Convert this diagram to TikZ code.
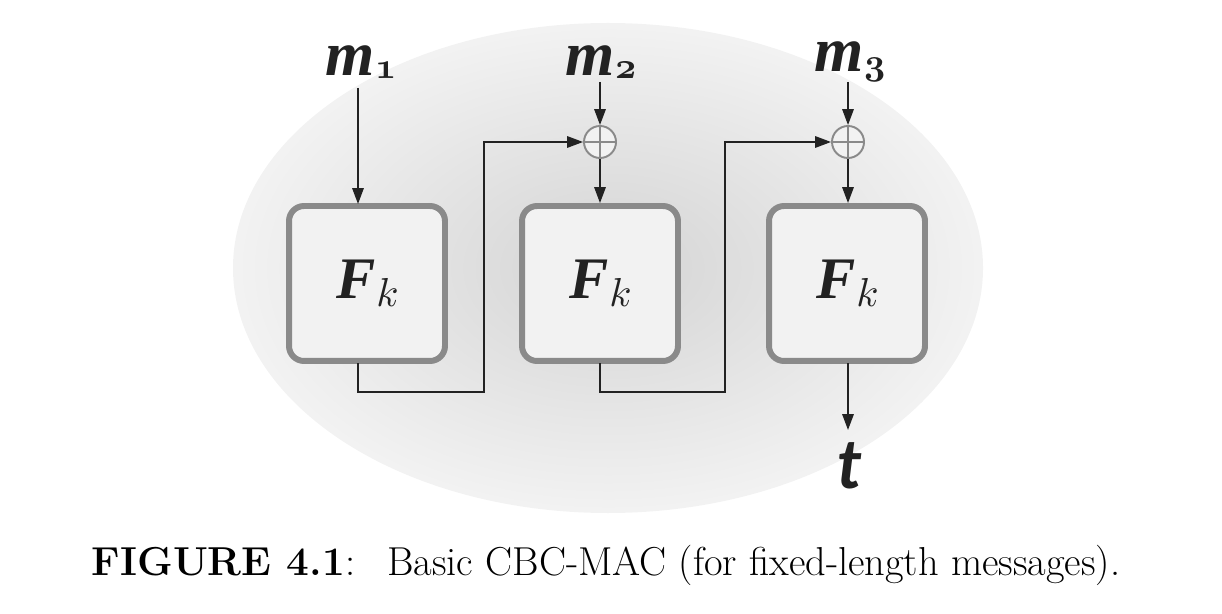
\documentclass[tikz,border=0pt]{standalone}
\usepackage{fontspec}
\newfontfamily\tfont{Lato}
\newfontfamily\lbfont{Liberation Serif}
\usetikzlibrary{arrows.meta}
\DeclareFontFamily{OML}{cmx}{\skewchar\font=127}
\DeclareFontShape{OML}{cmx}{m}{it}{<->cmmi10}{}
\DeclareFontShape{OML}{cmx}{b}{it}{<->cmmib10}{}
\definecolor{boxborder}{HTML}{8A8A8A}
\definecolor{boxfill}{HTML}{F2F2F2}
\definecolor{linecol}{HTML}{222222}
\newcommand{\osub}[1]{\mbox{\fontsize{21}{21}\usefont{OML}{cmx}{b}{it}#1}}
\newcommand{\fk}{{\fontsize{33.5}{33.5}\lbfont\bfseries\itshape F}\kern0.02em\raisebox{-4.5pt}{\fontsize{23}{23}\usefont{OML}{cmx}{m}{it}k}}
\newcommand{\mlab}[1]{{\fontsize{36}{36}\lbfont\bfseries\itshape m}\kern0.01em\raisebox{-1.5pt}{\osub{#1}}}
\tikzset{
  fbox/.style={draw=boxborder, line width=3.4pt, fill=boxfill, rounded corners=0.3cm,
    minimum width=3.12cm, minimum height=3.1cm, inner sep=0pt, text=linecol},
  xorop/.style={circle, draw=boxborder, line width=1.1pt, fill=boxfill, minimum size=0.64cm, inner sep=0pt},
  conn/.style={draw=linecol, line width=0.85pt},
  arr/.style={conn, -{Triangle[length=9pt,width=6.5pt]}},
  lbl/.style={inner sep=0pt, text=linecol},
}
\begin{document}
\begin{tikzpicture}[x=0.02cm,y=-0.02cm]
\useasboundingbox (0,0) rectangle (1222,614);
% background ellipse
\shade[inner color=black!17, outer color=black!5] (608,268) ellipse [x radius=375, y radius=245];
% boxes
\node[fbox] (f1) at (367,283.5) {\fk};
\node[fbox] (f2) at (600,283.5) {\fk};
\node[fbox] (f3) at (847,283.5) {\fk};
% xor
\node[xorop] (x2) at (600,142) {};
\node[xorop] (x3) at (848,142) {};
\draw[boxborder, line width=1.1pt] (x2.north) -- (x2.south) (x2.west) -- (x2.east);
\draw[boxborder, line width=1.1pt] (x3.north) -- (x3.south) (x3.west) -- (x3.east);
% labels
\node[lbl] (m1) at (361,62) {\mlab{1}};
\node[lbl] (m2) at (601,62) {\mlab{2}};
\node[lbl] (m3) at (850,62) {\mlab{3}};
\node[lbl, font=\fontsize{39}{39}\tfont\bfseries\itshape] (t) at (850,466) {t};
% coordinates
\coordinate (f1b) at (358,363);
\coordinate (f1t) at (358,204);
\coordinate (f2b) at (600,363);
\coordinate (f3b) at (848,363);
\coordinate (tend) at (848,430);
% connectors
\draw[arr] (358,88) -- (f1t);
\draw[arr] (x2 |- 0,82) -- (x2.north);
\draw[arr] (x3 |- 0,82) -- (x3.north);
\draw[arr] (x2.south) -- (x2 |- f2.north);
\draw[arr] (x3.south) -- (x3 |- f3.north);
\draw[arr] (f1b) -- (358,392) -- (484,392) -- (484,142) -- (x2.west);
\draw[arr] (f2b) -- (600,392) -- (725,392) -- (725,142) -- (x3.west);
\draw[arr] (f3b) -- (tend);
% caption
\node[font=\fontsize{23}{27}\selectfont, anchor=center] (cap) at (606,565)
  {\textbf{FIGURE 4.1}:\hspace{0.8em}Basic CBC-MAC (for fixed-length messages).};
\end{tikzpicture}
\end{document}
